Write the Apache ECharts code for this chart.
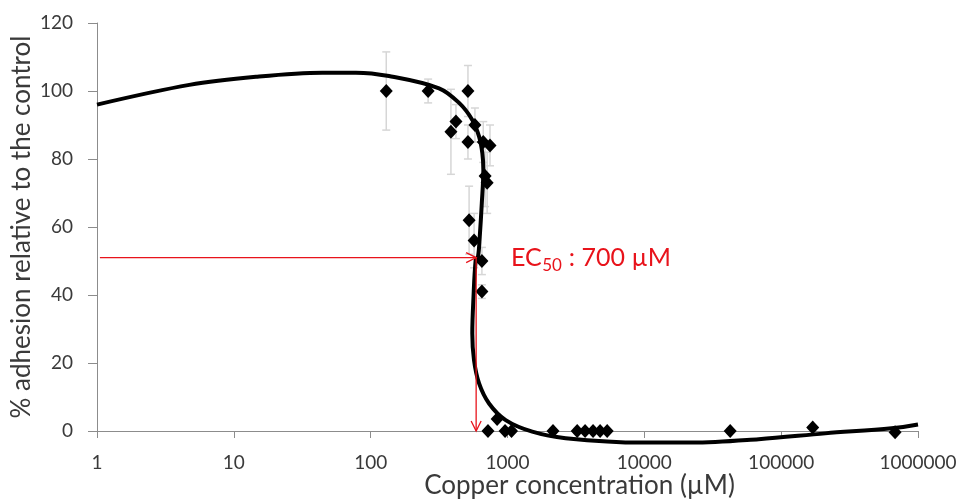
<!DOCTYPE html>
<html>
<head>
<meta charset="utf-8">
<script src="https://cdn.jsdelivr.net/npm/echarts@6/dist/echarts.min.js"></script>
<style>html,body{margin:0;padding:0;background:#fff}#c{width:960px;height:499px}</style>
</head>
<body>
<div id="c"></div>
<script>
// Measured data points (concentration in µM, % adhesion)
const pointX = [130, 263, 514, 420, 386, 514, 578, 665, 745, 686, 710, 524, 570, 650, 650, 720, 840, 960, 1070, 2150, 3230, 3690, 4220, 4750, 5350, 42400, 170000, 680000];
const pointY = [100, 100, 100, 91, 88, 85, 90, 85, 84, 75, 73, 62, 56, 50, 41, 0, 3.5, 0, 0, 0, 0, 0, 0, 0, 0, 0, 1, -0.4];
const pointErr = [11.5, 3.5, 7.5, 5, 12.5, 5, 5, 6, 6, 9, 9, 10, 8, 4, 2, 0.5, 0.5, 0.5, 0.5, 0.5, 0.5, 0.5, 0.5, 0.5, 0.5, 0.5, 0.5, 0.5];
// Fitted curve
const curveX = [1, 4.73, 14.5, 44.3, 78, 136, 316, 443, 553, 620, 655, 666, 649, 627, 609, 586, 563, 553, 569, 620, 733, 970, 1517, 2660, 9640, 22200, 68500, 210000, 641000, 1000000];
const curveY = [96, 101.8, 104.2, 105.4, 105.4, 104.4, 100.8, 96.5, 91.5, 86.6, 81.7, 76.8, 67, 57.2, 51.3, 50.3, 38.5, 28.7, 20.9, 14, 8.1, 3.2, -0.2, -2.1, -3.4, -3.4, -2.4, -0.7, 0.8, 1.9];
// EC50 arrows
const arrowStartX = 1.05;
const arrowX = 590;
const arrowY = 51;
const xTicks = ['1', '10', '100', '1000', '10000', '100000', '1000000'];
const yTicks = [0, 20, 40, 60, 80, 100, 120];

const FONT = 'Lato';
const TXT = '#3a3a3a';
const RED = '#e8131b';
const chart = echarts.init(document.getElementById('c'));
const pts = pointX.map((x, i) => [x, pointY[i]]);
const errData = pointX.map((x, i) => [x, pointY[i] - pointErr[i], pointY[i] + pointErr[i]]);
const curve = curveX.map((x, i) => [x, curveY[i]]);
const arrows = [[arrowStartX, arrowY, arrowX, arrowY], [arrowX, arrowY, arrowX, 0]];

// text measurement for the EC50 label
const mctx = document.createElement('canvas').getContext('2d');
function tw(t, size) { mctx.font = size + 'px ' + FONT; return mctx.measureText(t).width; }
const labX = 511;
const wEC = tw('EC', 25);
const w50 = tw('50', 17);

chart.setOption({
  animation: false,
  grid: { left: 97, right: 42, top: 23, bottom: 68, containLabel: false, outerBoundsMode: 'none' },
  xAxis: {
    type: 'log', logBase: 10, min: 1, max: 1000000,
    name: 'Copper concentration (µM)', nameLocation: 'middle', nameGap: 42, nameMoveOverlap: false,
    nameTextStyle: { fontFamily: FONT, fontSize: 26, color: TXT, padding: [0, 0, 0, 144] },
    axisLine: { lineStyle: { color: '#8c8c8c', width: 1 } },
    axisTick: { show: true, length: 7, lineStyle: { color: '#8c8c8c' } },
    minorTick: { show: false },
    splitLine: { show: false },
    axisLabel: { fontFamily: FONT, fontSize: 19, color: TXT, margin: 22,
      formatter: v => { const k = Math.round(Math.log10(v)); return xTicks[k] !== undefined ? xTicks[k] : ''; } }
  },
  yAxis: {
    type: 'value', min: 0, max: 120, interval: 20,
    name: '% adhesion relative to the control', nameLocation: 'middle', nameGap: 62, nameMoveOverlap: false,
    nameTextStyle: { fontFamily: FONT, fontSize: 26, color: TXT },
    axisLine: { show: true, lineStyle: { color: '#8c8c8c', width: 1 } },
    axisTick: { show: true, length: 9, lineStyle: { color: '#8c8c8c' } },
    splitLine: { show: false },
    axisLabel: { fontFamily: FONT, fontSize: 19, color: TXT, margin: 24,
      formatter: v => yTicks.indexOf(v) >= 0 ? String(v) : '' }
  },
  series: [
    {
      type: 'custom', z: 1, clip: false,
      renderItem: (params, api) => {
        const x = api.value(0);
        const lo = api.coord([x, api.value(1)]);
        const hi = api.coord([x, api.value(2)]);
        const s = { stroke: '#d6d6d6', lineWidth: 1.5 };
        return { type: 'group', children: [
          { type: 'line', shape: { x1: lo[0], y1: lo[1], x2: hi[0], y2: hi[1] }, style: s },
          { type: 'line', shape: { x1: lo[0] - 4, y1: lo[1], x2: lo[0] + 4, y2: lo[1] }, style: s },
          { type: 'line', shape: { x1: hi[0] - 4, y1: hi[1], x2: hi[0] + 4, y2: hi[1] }, style: s }
        ]};
      },
      encode: { x: 0, y: [1, 2] },
      data: errData
    },
    {
      type: 'line', data: curve, smooth: 0.35, showSymbol: false, symbol: 'none', z: 3, clip: false,
      lineStyle: { color: '#000', width: 4 }
    },
    {
      type: 'scatter', data: pts, symbol: 'diamond', symbolSize: [13, 14], z: 4, clip: false,
      itemStyle: { color: '#000', opacity: 1 }
    },
    {
      type: 'custom', z: 6, clip: false, silent: true,
      encode: { x: [0, 2], y: [1, 3] },
      renderItem: (params, api) => {
        const p1 = api.coord([api.value(0), api.value(1)]);
        const p2 = api.coord([api.value(2), api.value(3)]);
        const dx = p2[0] - p1[0], dy = p2[1] - p1[1];
        const len = Math.sqrt(dx * dx + dy * dy) || 1;
        const ux = dx / len, uy = dy / len;
        const hl = 10, hw = 5;
        const bx = p2[0] - ux * hl, by = p2[1] - uy * hl;
        const s = { stroke: RED, lineWidth: 1.3, fill: null };
        return { type: 'group', children: [
          { type: 'line', shape: { x1: p1[0], y1: p1[1], x2: p2[0], y2: p2[1] }, style: s },
          { type: 'polyline', shape: { points: [[bx - uy * hw, by + ux * hw], [p2[0], p2[1]], [bx + uy * hw, by - ux * hw]] }, style: s }
        ]};
      },
      data: arrows
    }
  ],
  graphic: [
    { type: 'text', x: labX, y: 258, z: 10, style: { text: 'EC', font: '25px ' + FONT, fill: RED, verticalAlign: 'middle' } },
    { type: 'text', x: labX + wEC + 0.5, y: 266, z: 10, style: { text: '50', font: '17px ' + FONT, fill: RED, verticalAlign: 'middle' } },
    { type: 'text', x: labX + wEC + w50 + 1, y: 258, z: 10, style: { text: ' : 700 µM', font: '25px ' + FONT, fill: RED, verticalAlign: 'middle' } }
  ]
});
</script>
</body>
</html>
